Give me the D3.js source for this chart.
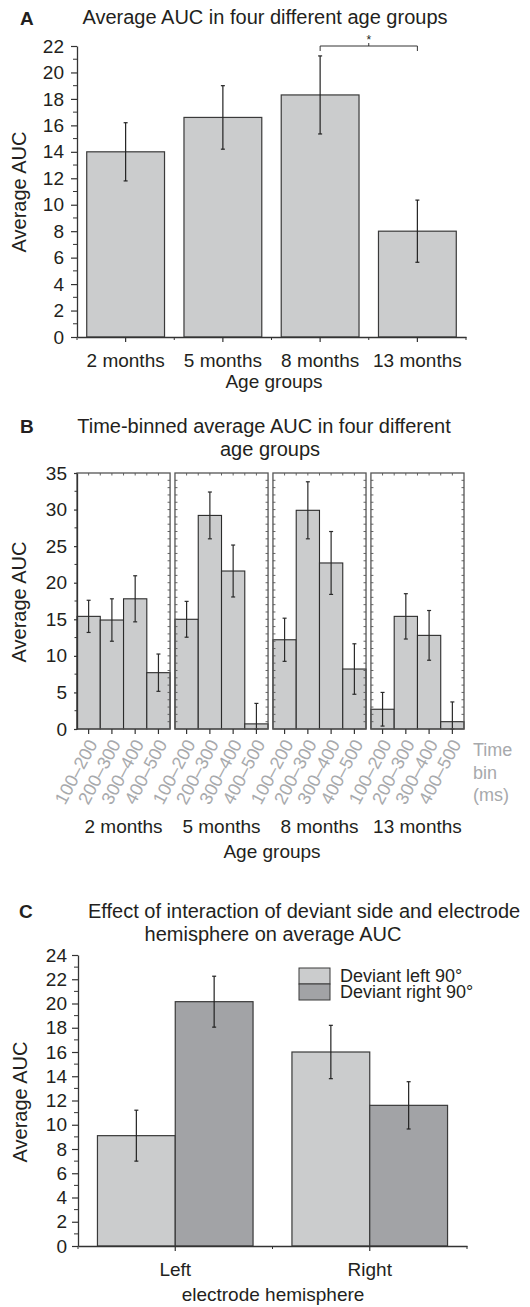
<!DOCTYPE html>
<html><head><meta charset="utf-8">
<script src="https://cdn.jsdelivr.net/npm/d3@7"></script>
<style>
body{margin:0;background:#fff}
text{font-family:"Liberation Sans",Arial,Helvetica,sans-serif;fill:#231f20}
</style>
</head><body>
<svg id="c" width="530" height="1307"></svg>
<script>
// ---------- Panel A data ----------
const ageGroups = ["2 months", "5 months", "8 months", "13 months"];
const aucA = [14.0, 16.6, 18.3, 8.0];
const errA = [2.2, 2.4, 2.95, 2.35];
const yTicksA = [0, 2, 4, 6, 8, 10, 12, 14, 16, 18, 20, 22];

// ---------- Panel B data ----------
const timeBins = ["100–200", "200–300", "300–400", "400–500"];
const aucB2m = [15.4, 14.9, 17.8, 7.7];
const aucB5m = [15.0, 29.2, 21.6, 0.7];
const aucB8m = [12.2, 29.9, 22.7, 8.2];
const aucB13m = [2.7, 15.4, 12.8, 1.0];
const errB2m = [2.2, 2.9, 3.15, 2.55];
const errB5m = [2.45, 3.2, 3.55, 2.8];
const errB8m = [2.95, 3.9, 4.3, 3.45];
const errB13m = [2.3, 3.1, 3.4, 2.7];
const yTicksB = [0, 5, 10, 15, 20, 25, 30, 35];

// ---------- Panel C data ----------
const hemispheres = ["Left", "Right"];
const deviantSeries = ["Deviant left 90°", "Deviant right 90°"];
const aucDevLeft = [9.1, 16.0];
const aucDevRight = [20.15, 11.6];
const errDevLeft = [2.1, 2.2];
const errDevRight = [2.1, 1.95];
const yTicksC = [0, 2, 4, 6, 8, 10, 12, 14, 16, 18, 20, 22, 24];

const svg = d3.select("#c");
const INK = "#231f20";
const AXIS = "#333";
const LIGHT = "#cbcccd";
const DARK = "#a2a3a6";
const FS = 19;     // tick / axis labels
const TFS = 20;    // titles
const GRAY = "#a7a9ac";

function errBar(g, x, y0, y1, cap, color) {
  g.append("line").attr("x1", x).attr("x2", x).attr("y1", y0).attr("y2", y1)
    .attr("stroke", color).attr("stroke-width", 1.2);
  [y0, y1].forEach(yy => g.append("line").attr("x1", x - cap).attr("x2", x + cap)
    .attr("y1", yy).attr("y2", yy).attr("stroke", color).attr("stroke-width", 1.2));
}
function styleAxis(g, fs) {
  g.select(".domain").attr("stroke", AXIS).attr("stroke-width", 1.3);
  g.selectAll(".tick line").attr("stroke", AXIS).attr("stroke-width", 1.2);
  g.selectAll(".tick text").attr("font-size", fs).attr("fill", INK)
    .attr("font-family", '"Liberation Sans",Arial,sans-serif');
}

// =================== PANEL A ===================
{
  const x = d3.scaleBand().domain(ageGroups).range([77, 466]).paddingInner(0.2).paddingOuter(0.1);
  const y = d3.scaleLinear().domain([0, 22]).range([337, 46]);
  const g = svg.append("g");

  g.append("text").attr("x", 20).attr("y", 25).attr("font-weight", "bold").attr("font-size", FS).text("A");
  g.append("text").attr("x", 265).attr("y", 24).attr("text-anchor", "middle").attr("font-size", TFS)
    .text("Average AUC in four different age groups");

  g.selectAll("rect.bar").data(ageGroups).join("rect").attr("class", "bar")
    .attr("x", d => x(d)).attr("width", x.bandwidth())
    .attr("y", (d, i) => y(aucA[i])).attr("height", (d, i) => y(0) - y(aucA[i]))
    .attr("fill", LIGHT).attr("stroke", "#3a3a3a").attr("stroke-width", 1.2);

  ageGroups.forEach((d, i) => {
    const cx = x(d) + x.bandwidth() / 2;
    errBar(g, cx, y(aucA[i] - errA[i]), y(aucA[i] + errA[i]), 2, "#222");
  });

  // y axis
  const ya = g.append("g").attr("transform", "translate(77,0)")
    .call(d3.axisLeft(y).tickValues(yTicksA).tickSize(6).tickSizeOuter(0).tickPadding(7));
  styleAxis(ya, FS);
  const minorA = d3.range(1, 22, 2);
  g.selectAll("line.minA").data(minorA).join("line")
    .attr("x1", 73).attr("x2", 77).attr("y1", d => y(d)).attr("y2", d => y(d))
    .attr("stroke", AXIS).attr("stroke-width", 1);

  // x axis
  const xa = g.append("g").attr("transform", "translate(0,337)")
    .call(d3.axisBottom(x).tickSize(5).tickSizeOuter(0).tickPadding(12));
  styleAxis(xa, FS);
  const bounds = d3.range(0, ageGroups.length + 1).map(i => 77 + i * x.step());
  g.selectAll("line.bA").data(bounds).join("line")
    .attr("x1", d => d).attr("x2", d => d).attr("y1", 337).attr("y2", 340)
    .attr("stroke", AXIS).attr("stroke-width", 1);

  g.append("text").attr("x", 274).attr("y", 388).attr("text-anchor", "middle").attr("font-size", FS).text("Age groups");
  g.append("text").attr("transform", "translate(26,192) rotate(-90)").attr("text-anchor", "middle")
    .attr("font-size", 20).text("Average AUC");

  // significance bracket (8 months vs 13 months)
  const bx1 = x("8 months") + x.bandwidth() / 2, bx2 = x("13 months") + x.bandwidth() / 2, by = y(22);
  g.append("path").attr("d", `M${bx1},${by + 5}V${by}H${bx2}V${by + 5}`)
    .attr("fill", "none").attr("stroke", "#333").attr("stroke-width", 1);
  g.append("line").attr("x1", (bx1 + bx2) / 2).attr("x2", (bx1 + bx2) / 2).attr("y1", by).attr("y2", by - 3)
    .attr("stroke", "#333").attr("stroke-width", 1);
  g.append("text").attr("x", (bx1 + bx2) / 2).attr("y", by - 2).attr("text-anchor", "middle")
    .attr("font-size", 12).text("*");
}

// =================== PANEL B ===================
{
  const groups = ageGroups;
  const vals = [aucB2m, aucB5m, aucB8m, aucB13m];
  const errs = [errB2m, errB5m, errB8m, errB13m];
  const xg = d3.scaleBand().domain(groups).range([77, 464]).paddingInner(0.05).paddingOuter(0);
  const xb = d3.scaleBand().domain(timeBins).range([0, xg.bandwidth()]).padding(0);
  const y = d3.scaleLinear().domain([0, 35]).range([729, 473]);
  const g = svg.append("g");

  g.append("text").attr("x", 20).attr("y", 433).attr("font-weight", "bold").attr("font-size", FS).text("B");
  g.append("text").attr("x", 264).attr("y", 433).attr("text-anchor", "middle").attr("font-size", TFS)
    .text("Time-binned average AUC in four different");
  g.append("text").attr("x", 270).attr("y", 456).attr("text-anchor", "middle").attr("font-size", TFS)
    .text("age groups");

  groups.forEach((grp, gi) => {
    const gx = xg(grp);
    const pg = g.append("g").attr("transform", `translate(${gx},0)`);
    pg.selectAll("rect.bar").data(timeBins).join("rect").attr("class", "bar")
      .attr("x", d => xb(d)).attr("width", xb.bandwidth())
      .attr("y", (d, i) => y(vals[gi][i])).attr("height", (d, i) => y(0) - y(vals[gi][i]))
      .attr("fill", LIGHT).attr("stroke", "#2b2b2b").attr("stroke-width", 1.1);
    timeBins.forEach((b, i) => {
      const cx = xb(b) + xb.bandwidth() / 2;
      const lo = Math.max(0, vals[gi][i] - errs[gi][i]);
      errBar(pg, cx, y(lo), y(vals[gi][i] + errs[gi][i]), 2, "#2a2a2a");
    });
    // frame
    pg.append("rect").attr("x", 0).attr("y", y(35)).attr("width", xg.bandwidth()).attr("height", y(0) - y(35))
      .attr("fill", "none").attr("stroke", "#555").attr("stroke-width", 1.3);
    // inner ticks on left/right edges every 1 unit
    const minor = d3.range(1, 35, 1);
    pg.selectAll("line.tl").data(gi === 0 ? [] : minor).join("line")
      .attr("x1", 0).attr("x2", 2.5).attr("y1", d => y(d)).attr("y2", d => y(d))
      .attr("stroke", "#555").attr("stroke-width", 0.9);
    pg.selectAll("line.tr").data(minor).join("line")
      .attr("x1", xg.bandwidth() - 2.5).attr("x2", xg.bandwidth()).attr("y1", d => y(d)).attr("y2", d => y(d))
      .attr("stroke", "#555").attr("stroke-width", 0.9);
    // top ticks at bin centres and boundaries
    const topT = d3.range(1, 8).map(k => k * xb.bandwidth() / 2);
    pg.selectAll("line.tt").data(topT).join("line")
      .attr("x1", d => d).attr("x2", d => d).attr("y1", y(35)).attr("y2", y(35) + 2.5)
      .attr("stroke", "#555").attr("stroke-width", 0.9);
    // bottom axis with bin ticks
    const xa = pg.append("g").attr("transform", `translate(0,${y(0)})`)
      .call(d3.axisBottom(xb).tickSize(5).tickSizeOuter(0).tickFormat(""));
    styleAxis(xa, FS);
    xa.select(".domain").remove();
    // rotated bin labels
    pg.selectAll("text.bin").data(timeBins).join("text").attr("class", "bin")
      .attr("text-anchor", "end").attr("dominant-baseline", "central")
      .attr("transform", d => `translate(${xb(d) + xb.bandwidth() / 2 + 4},${y(0) + 12}) rotate(-62)`)
      .attr("font-size", 18).style("fill", GRAY).text(d => d);
    // group label
    pg.append("text").attr("x", xg.bandwidth() / 2).attr("y", 833).attr("text-anchor", "middle")
      .attr("font-size", FS).text(grp);
  });

  // y axis
  const ya = g.append("g").attr("transform", "translate(77,0)")
    .call(d3.axisLeft(y).tickValues(yTicksB).tickSize(3).tickSizeOuter(0).tickPadding(7));
  styleAxis(ya, FS);
  const minorB = d3.range(2.5, 35, 5);
  g.selectAll("line.minB").data(minorB).join("line")
    .attr("x1", 74.5).attr("x2", 77).attr("y1", d => y(d)).attr("y2", d => y(d))
    .attr("stroke", AXIS).attr("stroke-width", 1);

  ["Time", "bin", "(ms)"].forEach((t, i) => g.append("text").attr("x", 473).attr("y", 756 + i * 22.5)
    .attr("font-size", 18).style("fill", GRAY).text(t));

  g.append("text").attr("x", 272).attr("y", 858).attr("text-anchor", "middle").attr("font-size", FS).text("Age groups");
  g.append("text").attr("transform", "translate(26,602) rotate(-90)").attr("text-anchor", "middle")
    .attr("font-size", 20).text("Average AUC");
}

// =================== PANEL C ===================
{
  const x = d3.scaleBand().domain(hemispheres).range([78, 467]).paddingInner(0.2).paddingOuter(0.1);
  const xs = d3.scaleBand().domain(deviantSeries).range([0, x.bandwidth()]).padding(0);
  const y = d3.scaleLinear().domain([0, 24]).range([1246, 955]);
  const colors = d3.scaleOrdinal().domain(deviantSeries).range([LIGHT, DARK]);
  const seriesVals = [aucDevLeft, aucDevRight];
  const seriesErr = [errDevLeft, errDevRight];
  const g = svg.append("g");

  g.append("text").attr("x", 19).attr("y", 918).attr("font-weight", "bold").attr("font-size", FS).text("C");
  g.append("text").attr("x", 88).attr("y", 918).attr("font-size", TFS)
    .text("Effect of interaction of deviant side and electrode");
  g.append("text").attr("x", 273).attr("y", 941).attr("text-anchor", "middle").attr("font-size", TFS)
    .text("hemisphere on average AUC");

  hemispheres.forEach((h, hi) => {
    deviantSeries.forEach((s, si) => {
      const v = seriesVals[si][hi], e = seriesErr[si][hi];
      g.append("rect").attr("x", x(h) + xs(s)).attr("width", xs.bandwidth())
        .attr("y", y(v)).attr("height", y(0) - y(v))
        .attr("fill", colors(s)).attr("stroke", "#3a3a3a").attr("stroke-width", 1.2);
      errBar(g, x(h) + xs(s) + xs.bandwidth() / 2, y(v - e), y(v + e), 2, "#222");
    });
  });

  const ya = g.append("g").attr("transform", "translate(78,0)")
    .call(d3.axisLeft(y).tickValues(yTicksC).tickSize(6).tickSizeOuter(0).tickPadding(5));
  styleAxis(ya, FS);
  const minorC = d3.range(1, 24, 2);
  g.selectAll("line.minC").data(minorC).join("line")
    .attr("x1", 74).attr("x2", 78).attr("y1", d => y(d)).attr("y2", d => y(d))
    .attr("stroke", AXIS).attr("stroke-width", 1);

  const xa = g.append("g").attr("transform", `translate(0,${y(0)})`)
    .call(d3.axisBottom(x).tickSize(5).tickSizeOuter(0).tickPadding(12));
  styleAxis(xa, FS);
  const boundsC = d3.range(0, hemispheres.length + 1).map(i => 78 + i * x.step());
  g.selectAll("line.bC").data(boundsC).join("line")
    .attr("x1", d => d).attr("x2", d => d).attr("y1", y(0)).attr("y2", y(0) + 3)
    .attr("stroke", AXIS).attr("stroke-width", 1);

  // legend
  const lg = g.append("g");
  deviantSeries.forEach((s, i) => {
    lg.append("rect").attr("x", 299).attr("y", 968 + i * 16).attr("width", 31).attr("height", 16)
      .attr("fill", colors(s)).attr("stroke", "#3a3a3a").attr("stroke-width", 1);
    lg.append("text").attr("x", 340).attr("y", 981.5 + i * 16.5).attr("font-size", 18).text(s);
  });

  g.append("text").attr("x", 273).attr("y", 1301).attr("text-anchor", "middle").attr("font-size", FS)
    .text("electrode hemisphere");
  g.append("text").attr("transform", "translate(27,1102) rotate(-90)").attr("text-anchor", "middle")
    .attr("font-size", 20).text("Average AUC");
}
</script>
</body></html>
